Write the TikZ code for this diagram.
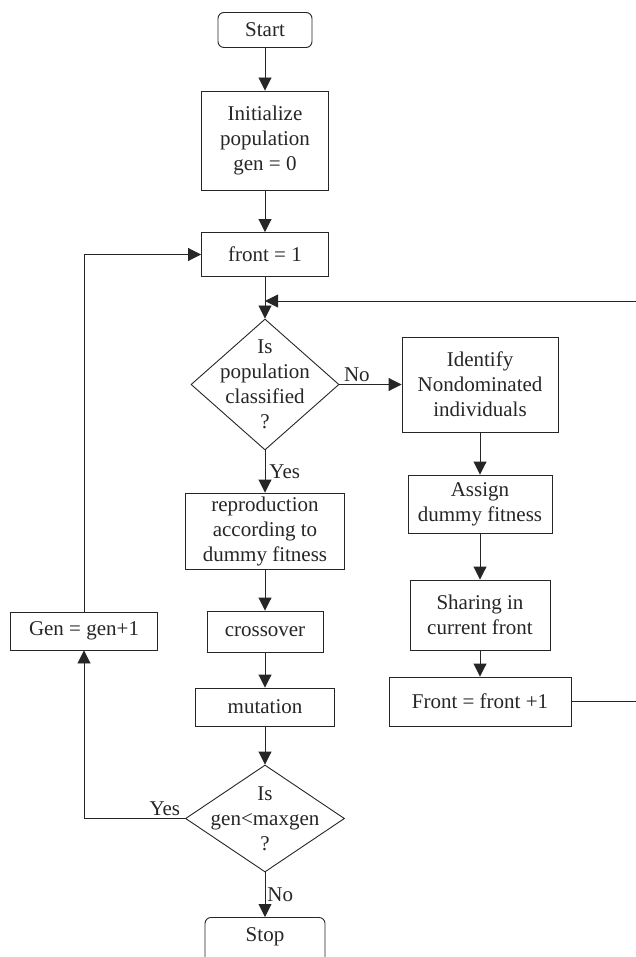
\documentclass[tikz,border=0pt]{standalone}
\usepackage{fontspec}
\setmainfont{Liberation Serif}
\usetikzlibrary{positioning,arrows.meta,calc,shapes.geometric}
\definecolor{ink}{HTML}{262626}
\newcommand{\fs}{\fontsize{21pt}{25pt}\selectfont}
\tikzset{
  box/.style={draw=ink, line width=0.9pt, fill=white, align=center,
    inner sep=0pt, text=ink},
  tbox/.style={box, rounded corners=6pt},
  dbox/.style={draw=ink, line width=0.9pt, diamond, inner sep=0pt, fill=white},
  arr/.style={-{Triangle[length=13pt,width=13pt]}, line width=0.9pt, color=ink},
  lab/.style={text=ink, inner sep=2pt},
}

\begin{document}
\begin{tikzpicture}[x=1pt, y=-1pt, font=\fs]
    \useasboundingbox (0,0) rectangle (635,957);
    % main column
    \node[tbox, minimum width=94pt, minimum height=35pt] (start) at (265,30) {Start};
    \node[box, minimum width=127pt, minimum height=99pt] (init) at (265,140.5) {Initialize\\population\\gen = 0};
    \node[box, minimum width=127pt, minimum height=44pt] (front1) at (265,254.5) {front = 1};
    \node[dbox, minimum width=148pt, minimum height=131pt] (q1) at (265,384.5) {};
    \node[align=center, text=ink] (q1t) at (q1) {Is\\population\\classified\\?};
    \node[box, minimum width=159pt, minimum height=76pt] (repro) at (265,531) {reproduction\\according to\\dummy fitness};
    \node[box, minimum width=116pt, minimum height=41pt] (cross) at (265,631.5) {crossover};
    \node[box, minimum width=139pt, minimum height=38pt] (mut) at (265,707) {mutation};
    \node[dbox, minimum width=159pt, minimum height=107pt] (q2) at (265,818.5) {};
    \node[align=center, text=ink] (q2t) at (q2) {Is\\gen<maxgen\\?};
    \node[tbox, minimum width=120pt, minimum height=46pt, text depth=12pt, anchor=north] (stop) at (265,917) {Stop};
    % right column
    \node[box, minimum width=156pt, minimum height=95pt] (ident) at (480,384.5) {Identify\\Nondominated\\individuals};
    \node[box, minimum width=144pt, minimum height=58pt] (assign) at (480,504) {Assign\\dummy fitness};
    \node[box, minimum width=140pt, minimum height=70pt] (share) at (480,615) {Sharing in\\current front};
    \node[box, minimum width=182pt, minimum height=49pt] (ffront) at (480,701.5) {Front = front +1};
    % left
    \node[box, minimum width=147pt, minimum height=38pt] (gen) at (84,631) {Gen = gen+1};
    \coordinate (jn) at (265,301);

    \foreach \i/\j in {start/init,init/front1,front1/q1,repro/cross,cross/mut,mut/q2,ident/assign,assign/share,share/ffront}
      \draw[arr] (\i) -- (\j);
    \draw[arr] (q1) -- node[lab, pos=0.28, above] {No} (ident);
    \draw[arr] (q1) -- node[lab, right, xshift=2pt] {Yes} (repro);
    \draw[arr] (q2) -- node[lab, right] {No} (stop);
    \draw[arr] (q2.west) -| node[lab, pos=0.1, above] {Yes} (gen.south);
    \draw[arr] (gen.north) |- (front1.west);
    \draw[arr] (ffront.east) -- ++(66,0) |- (jn);
  \end{tikzpicture}
\end{document}
